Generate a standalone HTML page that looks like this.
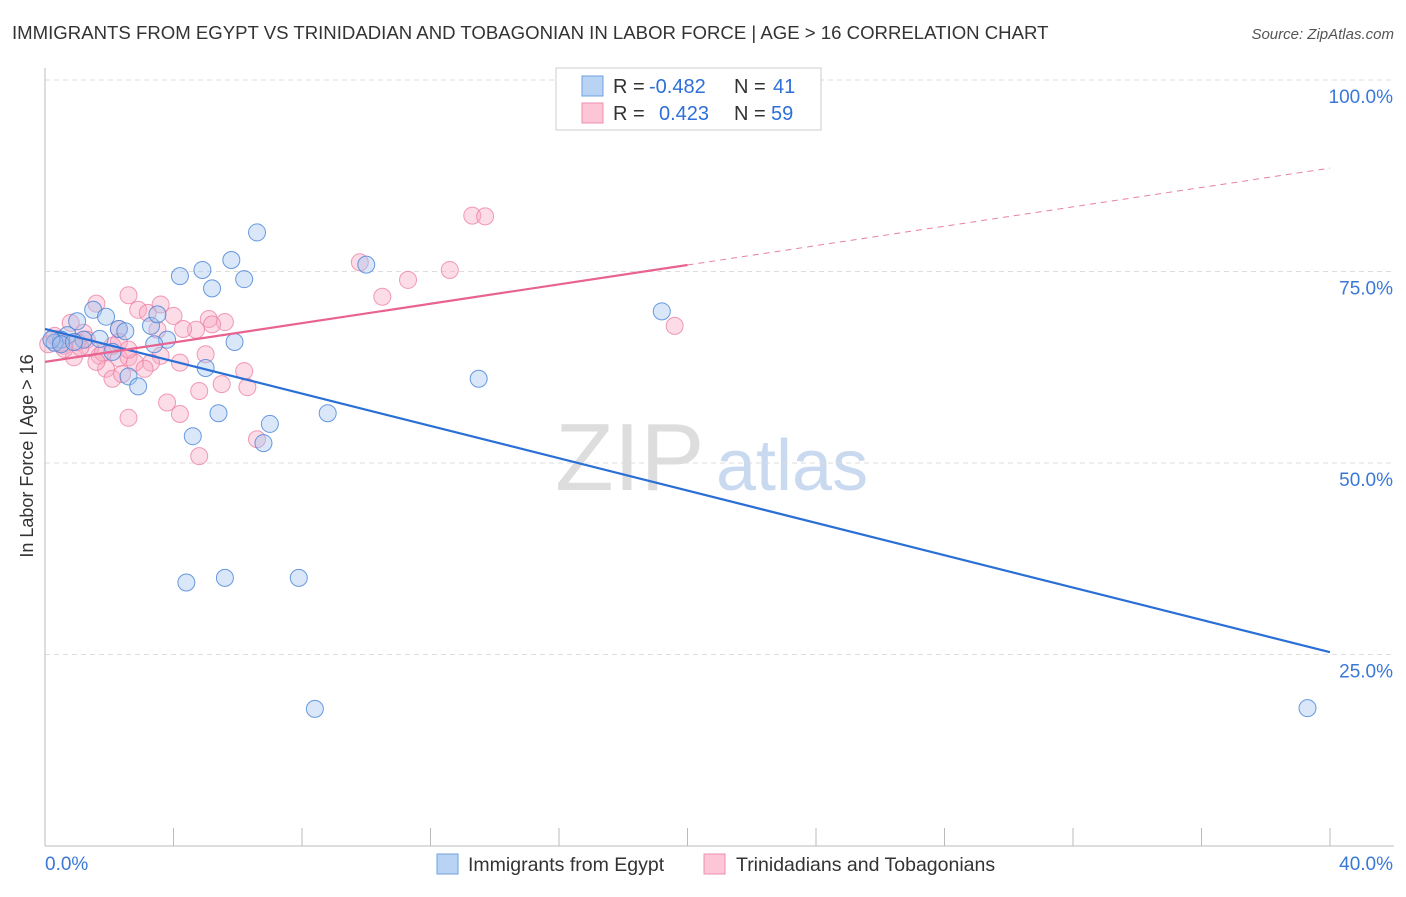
<!DOCTYPE html>
<html><head><meta charset="utf-8"><style>
body{margin:0;background:#fff;font-family:"Liberation Sans",sans-serif;}
svg text{font-family:"Liberation Sans",sans-serif;}
</style></head><body>
<svg id="chart" width="1406" height="892" xmlns="http://www.w3.org/2000/svg">
<text x="12" y="39" font-size="18.6" fill="#333">IMMIGRANTS FROM EGYPT VS TRINIDADIAN AND TOBAGONIAN IN LABOR FORCE | AGE &gt; 16 CORRELATION CHART</text>
<text x="1394" y="39" font-size="15" fill="#555" font-style="italic" text-anchor="end">Source: ZipAtlas.com</text>
<text x="0" y="0" font-size="18" fill="#333" text-anchor="middle" transform="translate(33,456) rotate(-90)">In Labor Force | Age &gt; 16</text>
<g><text x="555" y="490" font-size="96" fill="#ddd" font-family="Liberation Serif,serif">ZIP</text><text x="716" y="490" font-size="72" fill="#c9daf0">atlas</text></g>
<g id="grid"></g><g id="pts"></g><g id="lines"></g>
<g>
<rect x="556" y="68" width="265" height="62" fill="#fff" stroke="#ccc"/>
<rect x="582" y="76" width="21" height="20" fill="#b9d3f5" stroke="#6fa1e0"/>
<rect x="582" y="103" width="21" height="20" fill="#fcc6d6" stroke="#ec8fac"/>
<text x="613" y="93" font-size="20" fill="#333">R = </text><text x="649" y="93" font-size="20" fill="#2e6fd8">-0.482</text>
<text x="734" y="93" font-size="20" fill="#333">N = </text><text x="773" y="93" font-size="20" fill="#2e6fd8">41</text>
<text x="613" y="120" font-size="20" fill="#333">R = </text><text x="659" y="120" font-size="20" fill="#2e6fd8">0.423</text>
<text x="734" y="120" font-size="20" fill="#333">N = </text><text x="771" y="120" font-size="20" fill="#2e6fd8">59</text>
</g>
<g>
<rect x="437" y="854" width="21" height="20" fill="#b9d3f5" stroke="#6fa1e0"/>
<text x="468" y="871" font-size="19.5" fill="#333">Immigrants from Egypt</text>
<rect x="704" y="854" width="21" height="20" fill="#fcc6d6" stroke="#ec8fac"/>
<text x="736" y="871" font-size="19.5" fill="#333">Trinidadians and Tobagonians</text>
</g>
</svg>
<script>
const xTicks=[0,40];
const yTicks=[25,50,75,100];
const blueX=[6.6,5.8,4.9,4.2,6.2,5.2,10.0,1.5,1.9,1.0,3.3,2.3,2.5,3.5,3.8,3.4,5.9,1.7,0.7,0.5,0.3,2.1,2.6,2.9,5.0,5.4,7.0,6.8,4.6,8.8,13.5,19.2,4.4,5.6,7.9,8.4,39.3,0.2,0.5,1.2,0.9];
const blueY=[80.1,76.5,75.2,74.4,74.0,72.8,75.9,70.0,69.1,68.5,67.9,67.5,67.2,69.4,66.1,65.5,65.8,66.2,66.7,66.1,65.7,64.5,61.3,60.0,62.4,56.5,55.1,52.6,53.5,56.5,61.0,69.8,34.4,35.0,35.0,17.9,18.0,66.1,65.5,66.1,65.8];
const pinkX=[13.3,13.7,9.8,12.6,11.3,10.5,2.6,1.6,3.6,2.9,3.2,5.1,5.6,5.2,4.7,4.3,2.3,3.5,4.0,0.8,1.2,1.3,1.7,2.3,2.6,2.8,3.6,3.3,3.1,5.0,4.2,1.9,2.1,2.4,4.8,5.5,6.2,6.3,3.8,4.2,2.6,4.8,6.6,19.6,0.9,0.6,0.4,0.5,1.4,1.8,2.1,1.0,1.1,0.1,0.3,2.3,2.6,0.6,1.6];
const pinkY=[82.3,82.2,76.2,75.2,73.9,71.7,71.9,70.8,70.7,70.0,69.6,68.8,68.4,68.1,67.4,67.5,67.5,67.4,69.2,68.3,67.0,66.1,64.0,63.7,63.8,63.1,64.0,63.1,62.3,64.2,63.1,62.3,61.0,61.6,59.4,60.3,62.0,59.9,57.9,56.4,55.9,50.9,53.1,67.9,63.8,65.3,66.2,65.7,65.0,64.4,65.3,65.8,65.1,65.5,66.6,65.8,64.8,64.9,63.2];
const blueLine=[67.5,25.3], pinkLine=[63.2,88.5], pinkSolidEnd=20;
const NS='http://www.w3.org/2000/svg';
const X=v=>45+v/40*1285, Y=v=>846-v/100*766;
function mk(tag,attrs,parent){const e=document.createElementNS(NS,tag);for(const k in attrs)e.setAttribute(k,attrs[k]);parent.appendChild(e);return e;}
const grid=document.getElementById('grid');
for(const t of yTicks){
 const l=mk('line',{x1:45,x2:1394,y1:Y(t),y2:Y(t),stroke:'#ddd','stroke-dasharray':'5,4'},grid);
 
 
 const tx=mk('text',{x:1393,y:Y(t)+23,'font-size':19,fill:'#3a78d8','text-anchor':'end'},grid);tx.textContent=t.toFixed(1)+'%';
 
 
}
mk('line',{x1:45,x2:45,y1:68,y2:846,stroke:'#bbb'},grid);
mk('line',{x1:45,x2:1394,y1:846,y2:846,stroke:'#bbb'},grid);
for(let i=1;i<=10;i++){mk('line',{x1:X(i*4),x2:X(i*4),y1:828,y2:846,stroke:'#bbb'},grid);}
xTicks.forEach((t,i)=>{const tx=mk('text',{x:i?1393:45,y:870,'font-size':19,fill:'#3a78d8','text-anchor':i?'end':'start'},grid);tx.textContent=t.toFixed(1)+'%';
 
 });
const pts=document.getElementById('pts');
pinkX.forEach((x,i)=>{const c=mk('circle',{cx:X(x),cy:Y(pinkY[i]),r:8.5,fill:'rgba(248,170,195,0.4)',stroke:'rgba(236,130,165,0.8)','stroke-width':1},pts);
 
 });
blueX.forEach((x,i)=>{const c=mk('circle',{cx:X(x),cy:Y(blueY[i]),r:8.5,fill:'rgba(160,195,240,0.4)',stroke:'rgba(70,130,215,0.8)','stroke-width':1},pts);
 
 });
const lines=document.getElementById('lines');
const bl=mk('line',{x1:X(0),y1:Y(blueLine[0]),x2:X(40),y2:Y(blueLine[1]),stroke:'#2a6fd6','stroke-width':2.2},lines);


const pm=pinkLine[0]+(pinkLine[1]-pinkLine[0])*pinkSolidEnd/40;
const pl=mk('line',{x1:X(0),y1:Y(pinkLine[0]),x2:X(pinkSolidEnd),y2:Y(pm),stroke:'#e8638f','stroke-width':2.2},lines);


const pd=mk('line',{x1:X(pinkSolidEnd),y1:Y(pm),x2:X(40),y2:Y(pinkLine[1]),stroke:'#e8819f','stroke-width':1,'stroke-dasharray':'6,5'},lines);


</script>
</body></html>
